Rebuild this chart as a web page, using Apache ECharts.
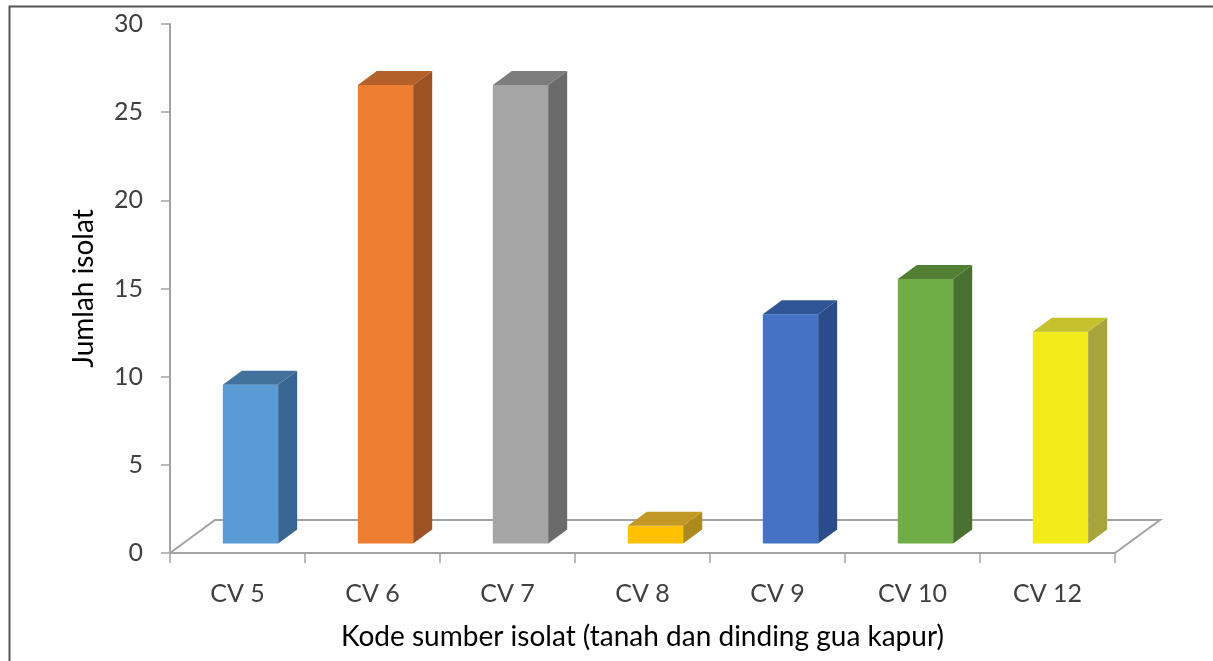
<!DOCTYPE html>
<html>
<head>
<meta charset="utf-8">
<script src="https://cdn.jsdelivr.net/npm/echarts@6/dist/echarts.min.js"></script>
<style>
  html, body { margin: 0; padding: 0; background: #fff; }
  #chart { width: 1213px; height: 661px; }
</style>
</head>
<body>
<div id="chart"></div>
<script>
var categories = ['CV 5', 'CV 6', 'CV 7', 'CV 8', 'CV 9', 'CV 10', 'CV 12'];
var values = [9, 26, 26, 1, 13, 15, 12];
var yTicks = [0, 5, 10, 15, 20, 25, 30];

// front / top / side colour of each bar
var frontColors = ['#5B9BD5', '#ED7D31', '#A5A5A5', '#FFC000', '#4472C4', '#70AD47', '#F2EA1A'];
var topColors   = ['#41719C', '#B3602A', '#7D7D7D', '#C29826', '#2F5597', '#527F34', '#C4C02E'];
var sideColors  = ['#386690', '#9C5225', '#6B6B6B', '#AD8A20', '#2A4C8A', '#477031', '#A6A43A'];

// floor depth in px and bar depth placement
var FLOOR_DX = 45, FLOOR_DY = 33;
var BAR_DX = 19, BAR_DY = 14;
var OFF_DX = (FLOOR_DX - BAR_DX) / 2, OFF_DY = OFF_DX * FLOOR_DY / FLOOR_DX;

var myChart = echarts.init(document.getElementById('chart'));

function renderFloor(params, api) {
    var band = api.size([1, 0])[0];
    var first = api.coord([0, 0]);
    var last = api.coord([categories.length - 1, 0]);
    var x0 = first[0] - band / 2, x1 = last[0] + band / 2, y0 = first[1];
    return {
        type: 'polyline',
        shape: { points: [[x0, y0], [x0 + FLOOR_DX, y0 - FLOOR_DY], [x1 + FLOOR_DX, y0 - FLOOR_DY], [x1, y0]] },
        style: { stroke: '#A3A3A3', lineWidth: 2, fill: null }
    };
}

function renderBar(params, api) {
    var i = api.value(0);
    var top = api.coord([i, api.value(1)]);
    var base = api.coord([i, 0]);
    var w = api.size([1, 0])[0] * 0.41;
    var xl = top[0] - w / 2 + OFF_DX, xr = xl + w;
    var yt = top[1] - OFF_DY, yb = base[1] - OFF_DY;
    return {
        type: 'group',
        children: [
            { type: 'rect', shape: { x: xl, y: yt, width: w, height: yb - yt },
              style: { fill: frontColors[i] } },
            { type: 'polygon', shape: { points: [[xr, yb], [xr, yt], [xr + BAR_DX, yt - BAR_DY], [xr + BAR_DX, yb - BAR_DY]] },
              style: { fill: sideColors[i] } },
            { type: 'polygon', shape: { points: [[xl, yt], [xr, yt], [xr + BAR_DX, yt - BAR_DY], [xl + BAR_DX, yt - BAR_DY]] },
              style: { fill: topColors[i] } }
        ]
    };
}

var option = {
    backgroundColor: '#FFFFFF',
    animation: false,
    textStyle: { fontFamily: 'Lato' },
    graphic: [{
        type: 'rect', left: 7, top: 4,
        shape: { width: 1300, height: 700 },
        style: { fill: null, stroke: '#555555', lineWidth: 2 }
    }],
    grid: { left: 170, right: 98, top: 24, bottom: 108 },
    xAxis: {
        type: 'category',
        data: categories,
        axisLine: { lineStyle: { color: '#A3A3A3', width: 2 } },
        axisTick: { show: true, length: 10, lineStyle: { color: '#A3A3A3', width: 1.5 } },
        axisLabel: { color: '#404040', fontSize: 25, margin: 28 },
        name: 'Kode sumber isolat (tanah dan dinding gua kapur)',
        nameLocation: 'middle',
        nameGap: 70,
        nameTextStyle: { color: '#000000', fontSize: 28 }
    },
    yAxis: {
        type: 'value',
        min: yTicks[0],
        max: yTicks[yTicks.length - 1],
        interval: 5,
        axisLine: { show: true, lineStyle: { color: '#A3A3A3', width: 2 } },
        axisTick: { show: true, length: 9, lineStyle: { color: '#A3A3A3', width: 1.5 } },
        splitLine: { show: false },
        axisLabel: { color: '#404040', fontSize: 25, margin: 27 },
        name: 'Jumlah isolat',
        nameLocation: 'middle',
        nameGap: 72,
        nameTextStyle: { color: '#000000', fontSize: 28 }
    },
    series: [{
        type: 'custom',
        name: 'floor',
        renderItem: renderFloor,
        data: [[0, 0]],
        z: 1,
        silent: true
    }, {
        type: 'custom',
        name: 'Jumlah isolat',
        renderItem: renderBar,
        data: values.map(function (v, i) { return [i, v]; }),
        encode: { x: 0, y: 1 },
        z: 2
    }]
};

myChart.setOption(option);
</script>
</body>
</html>
